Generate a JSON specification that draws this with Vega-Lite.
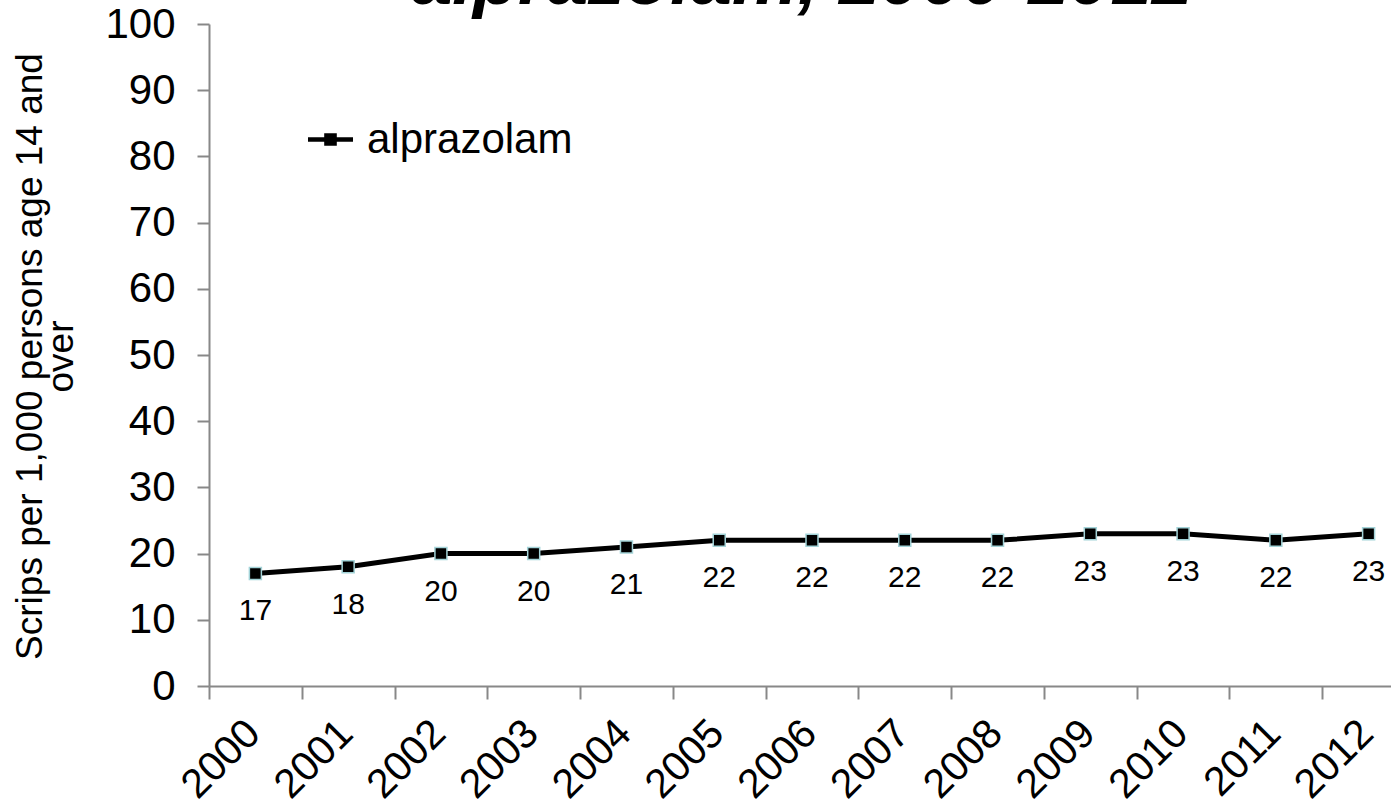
{
  "$schema": "https://vega.github.io/schema/vega-lite/v6.json",
  "width": 1182,
  "height": 662,
  "autosize": {"type": "none"},
  "padding": {"left": 209, "top": 24, "right": 0, "bottom": 121},
  "background": "white",
  "config": {"view": {"stroke": null}, "font": "Liberation Sans"},
  "title": {
    "text": "alprazolam, 2000-2012",
    "font": "Liberation Sans",
    "fontSize": 74,
    "fontWeight": "bold",
    "fontStyle": "italic",
    "color": "black",
    "anchor": "middle",
    "frame": "group",
    "baseline": "alphabetic",
    "offset": 0,
    "dy": 75,
    "dx": 2
  },
  "data": {
    "values": [
      {"year": "2000", "value": 17, "series": "alprazolam"},
      {"year": "2001", "value": 18, "series": "alprazolam"},
      {"year": "2002", "value": 20, "series": "alprazolam"},
      {"year": "2003", "value": 20, "series": "alprazolam"},
      {"year": "2004", "value": 21, "series": "alprazolam"},
      {"year": "2005", "value": 22, "series": "alprazolam"},
      {"year": "2006", "value": 22, "series": "alprazolam"},
      {"year": "2007", "value": 22, "series": "alprazolam"},
      {"year": "2008", "value": 22, "series": "alprazolam"},
      {"year": "2009", "value": 23, "series": "alprazolam"},
      {"year": "2010", "value": 23, "series": "alprazolam"},
      {"year": "2011", "value": 22, "series": "alprazolam"},
      {"year": "2012", "value": 23, "series": "alprazolam"}
    ]
  },
  "encoding": {
    "x": {
      "field": "year",
      "type": "ordinal",
      "scale": {"type": "band", "paddingInner": 0, "paddingOuter": 0, "range": [0, 1206]},
      "axis": {
        "title": null,
        "labelAngle": -45,
        "labelAlign": "right",
        "labelBaseline": "middle",
        "labelFontSize": 41,
        "labelColor": "black",
        "labelFont": "Liberation Sans",
        "labelOffset": -2,
        "tickBand": "extent",
        "tickSize": 13,
        "tickColor": "#888888",
        "tickWidth": 2,
        "domainColor": "#888888",
        "domainWidth": 2,
        "labelPadding": 28,
        "grid": false
      }
    },
    "y": {
      "field": "value",
      "type": "quantitative",
      "scale": {"domain": [0, 100], "nice": false},
      "axis": {
        "values": [0, 10, 20, 30, 40, 50, 60, 70, 80, 90, 100],
        "grid": false,
        "labelFontSize": 42,
        "labelColor": "black",
        "labelFont": "Liberation Sans",
        "labelPadding": 22,
        "tickSize": 12,
        "tickColor": "#888888",
        "tickWidth": 2,
        "domainColor": "#888888",
        "domainWidth": 2,
        "title": ["Scrips per 1,000 persons age 14 and", "over"],
        "titleFont": "Liberation Sans",
        "titleFontSize": 37,
        "titleFontWeight": "normal",
        "titleColor": "black",
        "titleAngle": -90,
        "titleAlign": "center",
        "titleBaseline": "alphabetic",
        "titleLineHeight": 31,
        "titleX": -168,
        "titleY": 332
      }
    }
  },
  "layer": [
    {
      "mark": {"type": "line", "strokeWidth": 5},
      "encoding": {
        "color": {
          "field": "series",
          "type": "nominal",
          "scale": {"range": ["black"]},
          "legend": {
            "title": null,
            "orient": "none",
            "legendX": 99,
            "legendY": 93,
            "padding": 0,
            "symbolType": "M-1,-0.1H1V0.1H-1Z M-0.28,-0.28H0.28V0.28H-0.28Z",
            "symbolSize": 2025,
            "labelFontSize": 42,
            "labelFont": "Liberation Sans",
            "labelColor": "black",
            "labelOffset": 14,
            "labelLimit": 0,
            "encode": {
              "symbols": {
                "update": {
                  "fill": {"value": "black"},
                  "stroke": {"value": "black"},
                  "strokeWidth": {"value": 0},
                  "opacity": {"value": 1}
                }
              }
            }
          }
        }
      }
    },
    {
      "mark": {
        "type": "point",
        "shape": "square",
        "size": 144,
        "filled": true,
        "fill": "black",
        "stroke": "#a3d3d8",
        "strokeWidth": 1.5,
        "opacity": 1
      }
    },
    {
      "mark": {
        "type": "text",
        "fontSize": 30,
        "font": "Liberation Sans",
        "color": "black",
        "baseline": "middle",
        "align": "center",
        "dy": 38
      },
      "encoding": {"text": {"field": "value", "type": "quantitative"}}
    }
  ]
}
